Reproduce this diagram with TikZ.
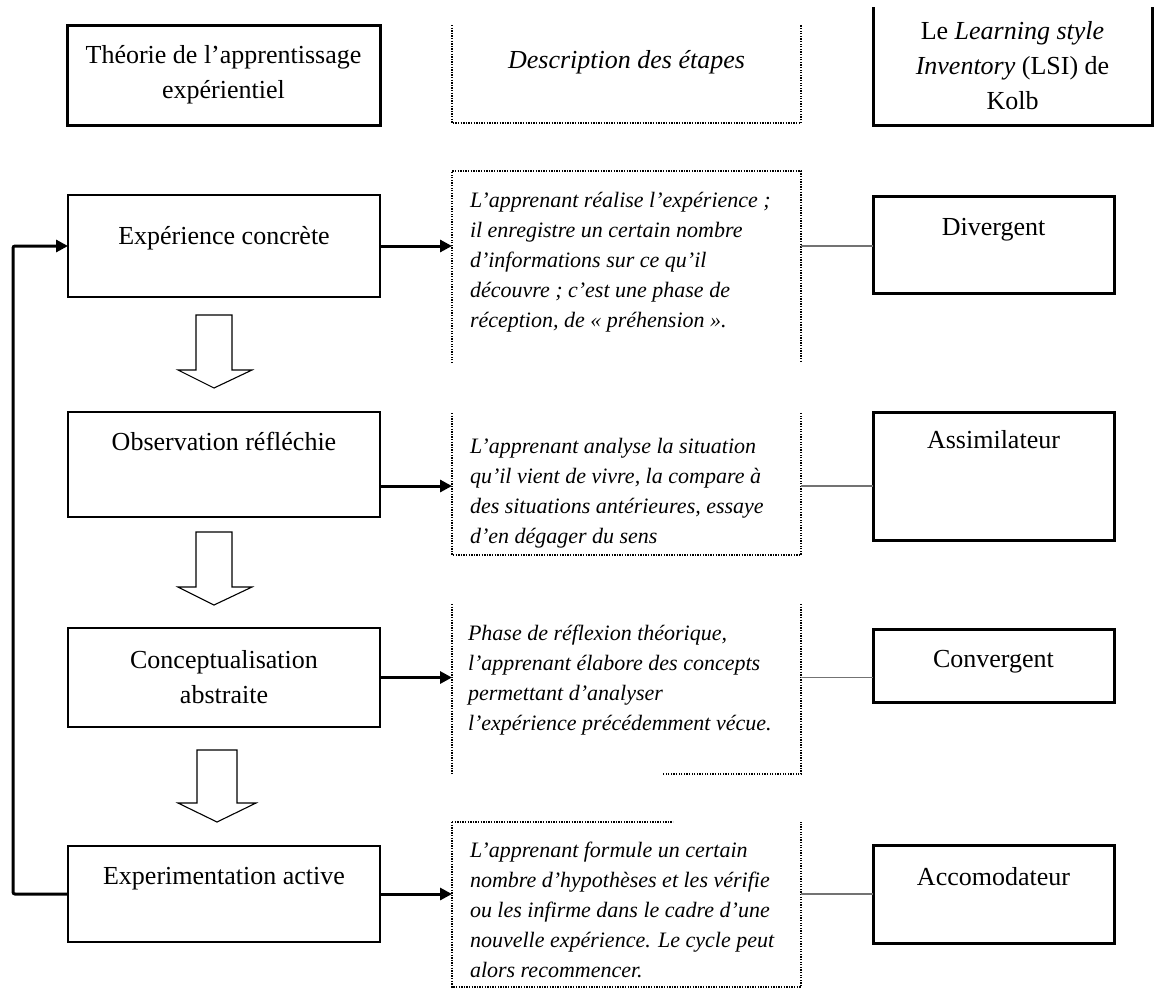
\documentclass[tikz,border=0pt]{standalone}
\usepackage{fontspec}
\setmainfont{Liberation Serif}
\usetikzlibrary{arrows.meta}
\begin{document}
\begin{tikzpicture}[x=1pt,y=-1pt,
  every node/.style={inner sep=0pt,outer sep=0pt},
  upr/.style={font=\fontsize{26}{35}\selectfont},
  thinbox/.style={draw,line width=1.3pt,upr,anchor=north west},
  thickbox/.style={draw,line width=3pt,upr,anchor=north west},
  dotside/.style={line width=1.3pt,dash pattern=on 1.3pt off 1.3pt},
  arr/.style={line width=3pt,-{Triangle[length=12pt,width=12pt]}},
  link/.style={line width=1.8pt,black!55},
  blk/.style={draw,line width=1.1pt,fill=white},
  descbox/.style={anchor=north west,font=\fontsize{22}{30}\selectfont\itshape}
]
\useasboundingbox (0,0) rectangle (1158,989);

% ---- headers
\node[thickbox,align=center,minimum width=313,minimum height=100] (H1) at (67,25)
  {Théorie de l’apprentissage\\expérientiel};
\node[upr,font=\fontsize{26}{35}\selectfont\itshape,anchor=north west,minimum width=349,text height=43,text depth=55] (H2) at (452,25)
  {Description des étapes};
\node[upr,align=center,anchor=north west,minimum width=279,minimum height=118] (H3) at (873,7)
  {Le \textit{Learning style}\\\textit{Inventory} (LSI) de\\Kolb};
\draw[dotside] (H2.north west) -- (H2.south west) -- (H2.south east) -- (H2.north east);
\draw[line width=3pt] (H3.north west) -- (H3.south west) -- (H3.south east) -- (H3.north east);

% ---- left column
\node[thinbox,minimum width=312,text height=49,text depth=53] (E1) at (68,195) {Expérience concrète};
\node[thinbox,minimum width=312,text height=38,text depth=67] (E2) at (68,412) {Observation réfléchie};
\node[thinbox,align=center,minimum width=312,minimum height=99] (E3) at (68,628) {Conceptualisation\\abstraite};
\node[thinbox,minimum width=312,text height=38,text depth=58] (E4) at (68,846) {Experimentation active};

% ---- right column
\node[thickbox,minimum width=241,text height=39,text depth=58] (R1) at (873,196) {Divergent};
\node[thickbox,minimum width=241,text height=36,text depth=92] (R2) at (873,412) {Assimilateur};
\node[thickbox,minimum width=241,text height=38,text depth=35] (R3) at (873,629) {Convergent};
\node[thickbox,minimum width=241,text height=40,text depth=58] (R4) at (873,845) {Accomodateur};

% ---- descriptions
\node[descbox] (D1) at (452,171) {\parbox[c][192pt][t]{349pt}{\leftskip=18pt\vspace*{15pt}\strut
  L’apprenant réalise l’expérience ;\\
  il enregistre un certain nombre\\
  d’informations sur ce qu’il\\
  découvre ; c’est une phase de\\
  réception, de « préhension ».}};
\node[descbox] (D2) at (452,413) {\parbox[c][142pt][t]{349pt}{\leftskip=18pt\vspace*{19pt}\strut
  L’apprenant analyse la situation\\
  qu’il vient de vivre, la compare à\\
  des situations antérieures, essaye\\
  d’en dégager du sens}};
\node[descbox] (D3) at (452,604) {\parbox[c][170pt][t]{349pt}{\leftskip=16pt\vspace*{15pt}\strut
  Phase de réflexion théorique,\\
  l’apprenant élabore des concepts\\
  permettant d’analyser\\
  l’expérience précédemment vécue.}};
\node[descbox] (D4) at (452,822) {\parbox[c][165pt][t]{349pt}{\leftskip=18pt\vspace*{14pt}\strut
  L’apprenant formule un certain\\
  nombre d’hypothèses et les vérifie\\
  ou les infirme dans le cadre d’une\\
  nouvelle expérience. Le cycle peut\\
  alors recommencer.}};

\draw[dotside] (D1.south west) -- (D1.north west) -- (D1.north east) -- (D1.south east);
\draw[dotside] (D2.north west) -- (D2.south west) -- (D2.south east) -- (D2.north east);
\draw[dotside] (D3.north west) -- (D3.south west);
\draw[dotside] (D3.north east) -- (D3.south east) -- ++(-139,0);
\draw[dotside] (D4.north west) -- ++(221,0);
\draw[dotside] (D4.north west) -- (D4.south west) -- (D4.south east) -- (D4.north east);

% ---- row levels of the connectors
\coordinate (y2) at (0,486);

% ---- arrows to descriptions
\draw[arr] (E1.east) -- (E1.east -| D1.west);
\draw[arr] (E2.east |- y2) -- (D2.west |- y2);
\draw[arr] (E3.east) -- (E3.east -| D3.west);
\draw[arr] (E4.east) -- (E4.east -| D4.west);

% ---- links to learning styles
\draw[link] (E1.east -| D1.east) -- (E1.east -| R1.west);
\draw[link] (D2.east |- y2) -- (R2.west |- y2);
\draw[link] (E3.east -| D3.east) -- (E3.east -| R3.west);
\draw[link] (E4.east -| D4.east) -- (E4.east -| R4.west);

% ---- loop back
\draw[arr,rounded corners=2pt] (E4.west) -- ++(-55,0) |- (E1.west);

% ---- block arrows
\draw[blk] (196,315) -- (232,315) -- (232,370) -- (252,370) -- (214,388) -- (178,370) -- (196,370) -- cycle;
\draw[blk] (196,532) -- (232,532) -- (232,587) -- (252,587) -- (214,605) -- (178,587) -- (196,587) -- cycle;
\draw[blk] (197,750) -- (237,750) -- (237,803) -- (256,803) -- (217,822) -- (178,803) -- (197,803) -- cycle;
\end{tikzpicture}
\end{document}
